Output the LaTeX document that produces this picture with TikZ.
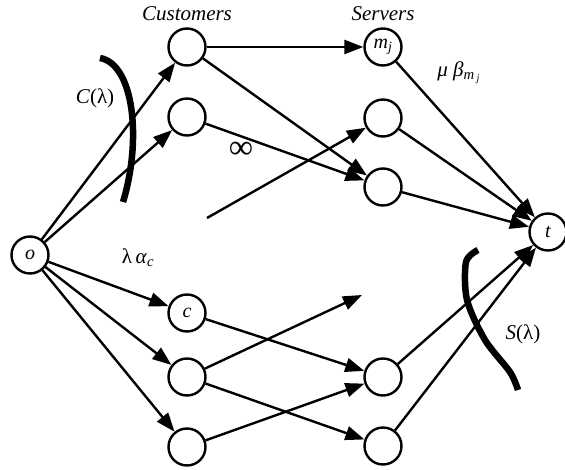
\documentclass[tikz,border=0pt]{standalone}
\usepackage{fontspec}
\setmainfont{Liberation Serif}
\usetikzlibrary{arrows.meta}
\begin{document}
\begin{tikzpicture}[x=1pt,y=-1pt,line width=2.4pt,
  vert/.style={circle,draw,minimum size=37pt,inner sep=0pt,font=\fontsize{20}{22}\selectfont\itshape},
  arc/.style={-{Triangle[length=19pt,width=14pt]}},
  cut/.style={line width=6.5pt},
  lbl/.style={font=\fontsize{21}{23}\selectfont}]
\useasboundingbox (0,0) rectangle (565,470);

%nodes:
\node[vert] (o) at (30,255) {o};
\node[vert] (c1) at (187,47) {};
\node[vert] (c2) at (187,117) {};
\node[vert] (c) at (187,313) {c};
\node[vert] (c4) at (187,377) {};
\node[vert] (c5) at (187,447) {};
\node[vert] (s1) at (383,47) {m\textsubscript{j}};
\node[vert] (s2) at (383,118) {};
\node[vert] (s3) at (383,187) {};
\node[vert] (s4) at (383,377) {};
\node[vert] (s5) at (383,446) {};
\node[vert] (t) at (548,232) {t};
\coordinate (f1) at (207,218);
\coordinate (f2) at (362,295);

\node[lbl,font=\fontsize{21}{23}\selectfont\itshape] (cust) at (187,14) {Customers};
\node[lbl,font=\fontsize{21}{23}\selectfont\itshape] (serv) at (383,14) {Servers};

%arcs:
\foreach \n in {c1,c2,c,c4,c5}
        \draw[arc] (o) -- (\n);
\draw[arc] (c1) -- (s1);
\draw[arc] (c1) -- (s3);
\draw[arc] (c2) -- (s3);
\draw[arc] (f1) -- (s2);
\draw[arc] (c) -- (s4);
\draw[arc] (c5) -- (s4);
\draw[arc] (c4) -- (s5);
\draw[arc] (c4) -- (f2);
\foreach \n in {s1,s2,s3,s4,s5}
        \draw[arc] (\n) -- (t);

\node[lbl] (clam) at (95,98) {\textit{C}(λ)};
\node[lbl] (inf) at (241,150) {\fontsize{34}{34}\selectfont ∞};
\node[lbl] (mub) at (459,73) {\textit{μ β}\textsubscript{\textit{m\,}\textsubscript{\textit{j}}}};
\node[lbl] (lal) at (138,258) {λ\,\textit{α}\textsubscript{\textit{c}}};
\node[lbl] (slam) at (523,334) {\textit{S}(λ)};

%cuts:
\draw[cut] (100,58) .. controls (134,64) and (142,140) .. (123,202);
\draw[cut] plot[smooth] coordinates {(478,250) (466,262) (467,300) (485,340) (510,372) (518,390)};
\end{tikzpicture}
\end{document}
